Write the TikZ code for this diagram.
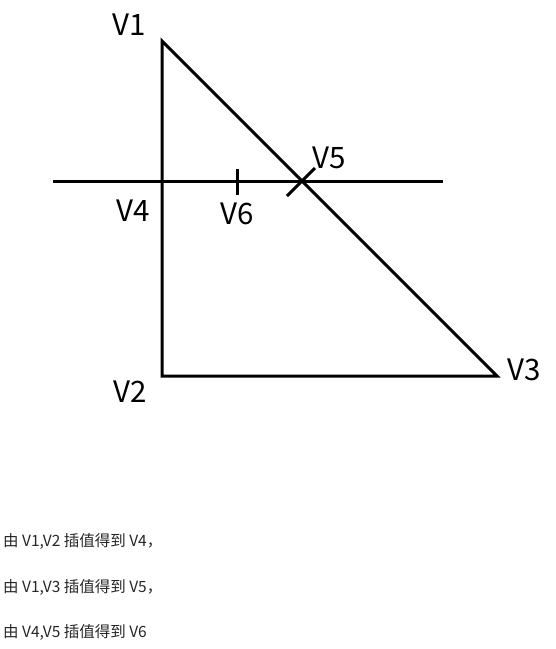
\documentclass[tikz,border=0pt]{standalone}
\usepackage{fontspec}
\setmainfont{Noto Sans CJK SC}
\usetikzlibrary{positioning}
\tikzset{
  edge/.style={draw=black, line width=3pt},
  tick/.style={draw=black, line width=3pt},
  vlabel/.style={font=\fontsize{29.5}{30}\selectfont, inner sep=0pt, anchor=center},
  note/.style={font=\fontsize{15.5}{16}\selectfont, text=black!85, inner sep=0pt, anchor=west}
}

\begin{document}
\begin{tikzpicture}[x=1pt, y=-1pt]
  \useasboundingbox (0,0) rectangle (556,649);
  \coordinate (v1) at (162,41);
  \coordinate (v2) at (162,376);
  \coordinate (v3) at (497,376);
  \coordinate (v4) at (162,181);
  \coordinate (v5) at (302,181);
  \coordinate (v6) at (237,181);
  \coordinate (hl) at (53,181);
  \coordinate (hr) at (443,181);
  \coordinate (t5a) at (287,196);
  \coordinate (t5b) at (315,168);
  \coordinate (t6a) at (237,169);
  \coordinate (t6b) at (237,195);

  \draw[edge] (v1) -- (v2) -- (v3) -- cycle;
  \draw[edge] (hl) -- (hr);
  \draw[tick] (t5a) -- (t5b);
  \draw[tick] (t6a) -- (t6b);

  \node[vlabel] (lv1) at (129,25) {V1};
  \node[vlabel] (lv2) at (130,392) {V2};
  \node[vlabel] (lv3) at (524,370) {V3};
  \node[vlabel] (lv4) at (133,211) {V4};
  \node[vlabel] (lv5) at (329,158) {V5};
  \node[vlabel] (lv6) at (237,214) {V6};

  \node[note] (n1) at (3,541) {由 V1,V2 插值得到 V4，};
  \node[note] (n2) at (3,587) {由 V1,V3 插值得到 V5，};
  \node[note] (n3) at (3,632) {由 V4,V5 插值得到 V6};
\end{tikzpicture}
\end{document}
